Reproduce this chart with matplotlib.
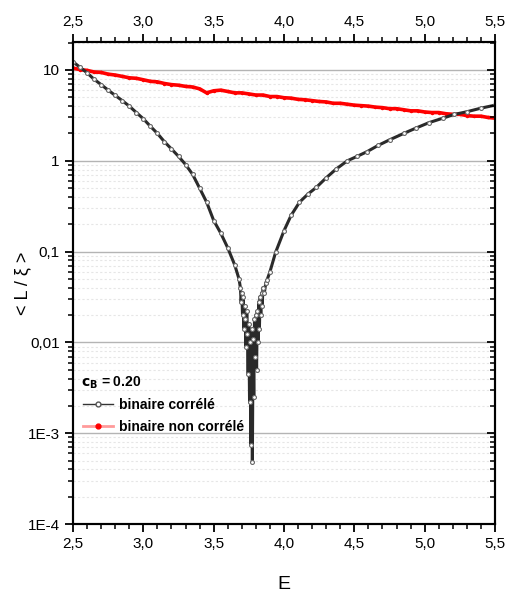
import matplotlib
matplotlib.use("Agg")
import matplotlib.pyplot as plt
from matplotlib.lines import Line2D
from matplotlib.ticker import FixedLocator, FuncFormatter, LogLocator, NullFormatter, MultipleLocator


# binaire corrélé, c_B = 0.20
E_corr = [
    2.50, 2.55, 2.60, 2.65, 2.70, 2.75, 2.80, 2.85, 2.90, 2.95,
    3.00, 3.05, 3.10, 3.15, 3.20, 3.25, 3.30, 3.35, 3.40, 3.45,
    3.50, 3.55, 3.60, 3.65, 3.68,
    3.690, 3.695, 3.700, 3.705, 3.710, 3.715, 3.720, 3.725, 3.730, 3.735,
    3.740, 3.745, 3.750, 3.755, 3.760, 3.765, 3.770, 3.775, 3.780, 3.785,
    3.790, 3.795, 3.800, 3.805, 3.810, 3.815, 3.820, 3.825, 3.830, 3.835,
    3.840, 3.845, 3.850, 3.860, 3.870,
    3.88, 3.90, 3.94, 4.00, 4.05, 4.11, 4.17, 4.23, 4.30, 4.37,
    4.45, 4.52, 4.59, 4.67, 4.75, 4.85, 4.94, 5.03, 5.13, 5.21,
    5.30, 5.40, 5.50,
]
L_corr = [
    12.3, 10.7, 9.3, 7.9, 6.9, 6.0, 5.25, 4.6, 4.0, 3.4,
    2.9, 2.4, 2.0, 1.62, 1.35, 1.12, 0.91, 0.71, 0.50, 0.35,
    0.22, 0.16, 0.11, 0.071, 0.050,
    0.040, 0.028, 0.035, 0.020, 0.032, 0.014, 0.025, 0.018, 0.009, 0.022,
    0.0125, 0.0045, 0.016, 0.0022, 0.010, 0.00075, 0.014, 0.00048, 0.011, 0.0025,
    0.018, 0.007, 0.020, 0.005, 0.022, 0.010, 0.028, 0.014, 0.032, 0.020,
    0.035, 0.025, 0.040, 0.035, 0.045,
    0.049, 0.060, 0.098, 0.17, 0.25, 0.35, 0.43, 0.51, 0.65, 0.81,
    1.0, 1.12, 1.26, 1.48, 1.7, 2.0, 2.3, 2.63, 2.95, 3.24,
    3.47, 3.8, 4.1,
]

# binaire non corrélé
E_noncorr = [
    2.50, 2.55, 2.60, 2.65, 2.70, 2.75, 2.80, 2.85, 2.90, 2.95,
    3.00, 3.05, 3.10, 3.15, 3.20, 3.25, 3.30, 3.35, 3.40, 3.45,
    3.50, 3.55, 3.60, 3.65, 3.70, 3.75, 3.80, 3.85, 3.90, 3.95,
    4.00, 4.05, 4.10, 4.15, 4.20, 4.25, 4.30, 4.35, 4.40, 4.45,
    4.50, 4.55, 4.60, 4.65, 4.70, 4.75, 4.80, 4.85, 4.90, 4.95,
    5.00, 5.05, 5.10, 5.15, 5.20, 5.25, 5.30, 5.35, 5.40, 5.45, 5.50,
]
L_noncorr = [
    10.5, 10.1, 9.9, 9.5, 9.4, 9.0, 8.8, 8.5, 8.2, 8.1,
    7.8, 7.5, 7.4, 7.1, 6.9, 6.8, 6.6, 6.5, 6.2, 5.6,
    5.9, 6.0, 5.8, 5.6, 5.6, 5.45, 5.3, 5.3, 5.1, 5.1,
    4.95, 4.9, 4.75, 4.7, 4.6, 4.5, 4.45, 4.3, 4.3, 4.2,
    4.1, 4.05, 4.0, 3.9, 3.85, 3.75, 3.75, 3.65, 3.55, 3.55,
    3.45, 3.4, 3.4, 3.3, 3.25, 3.25, 3.15, 3.1, 3.1, 3.0, 2.95,
]

y_ticks = [1e-4, 1e-3, 1e-2, 1e-1, 1, 10]
y_tick_labels = ["1E-4", "1E-3", "0,01", "0,1", "1", "10"]

FONT = ["Liberation Sans Narrow", "Liberation Sans", "DejaVu Sans"]


def x_fmt(v, pos):
    return f"{v:.1f}".replace(".", ",")


def y_fmt(v, pos):
    i = min(range(len(y_ticks)), key=lambda k: abs(y_ticks[k] - v) / y_ticks[k])
    return y_tick_labels[i]


def main():
    plt.rcParams["font.family"] = FONT

    fig = plt.figure(figsize=(5.11, 6.01), dpi=100)
    ax = fig.add_axes([0.1429, 0.128, 0.8258, 0.802])

    ax.set_yscale("log")
    ax.set_xlim(2.5, 5.5)
    ax.set_ylim(1e-4, 20.3)

    # grid
    ax.yaxis.grid(True, which="major", color="#b4b4b4", lw=1.0)
    ax.yaxis.grid(True, which="minor", color="#e6e6e6", lw=0.8, linestyle=(0, (2, 2)))
    ax.xaxis.grid(False)
    ax.set_axisbelow(True)

    ax.plot(E_noncorr, L_noncorr, color="red", lw=2.6, marker="o", ms=1.5,
            mfc="red", mec="red", zorder=3)
    ax.plot(E_corr, L_corr, color="#2a2a2a", lw=2.2, marker="o", ms=2.8,
            mfc="white", mec="#666666", mew=0.8, zorder=4)

    ax.xaxis.set_major_locator(MultipleLocator(0.5))
    ax.xaxis.set_minor_locator(MultipleLocator(0.1))
    ax.xaxis.set_major_formatter(FuncFormatter(x_fmt))
    ax.yaxis.set_major_locator(FixedLocator(y_ticks))
    ax.yaxis.set_major_formatter(FuncFormatter(y_fmt))
    ax.yaxis.set_minor_locator(LogLocator(base=10, subs=range(2, 10)))
    ax.yaxis.set_minor_formatter(NullFormatter())

    ax.tick_params(axis="both", which="major", direction="out", length=6, width=1.3,
                   labelsize=11)
    ax.tick_params(axis="both", which="minor", direction="out", length=3.5, width=1.1)
    ax.tick_params(axis="x", which="both", top=True, labeltop=True)
    ax.tick_params(axis="y", which="both", right=False)

    # right side ticks point inward
    ax2 = ax.twinx()
    ax2.set_yscale("log")
    ax2.set_ylim(ax.get_ylim())
    ax2.yaxis.set_major_locator(FixedLocator(y_ticks))
    ax2.yaxis.set_minor_locator(LogLocator(base=10, subs=range(2, 10)))
    ax2.yaxis.set_major_formatter(NullFormatter())
    ax2.yaxis.set_minor_formatter(NullFormatter())
    ax2.tick_params(axis="y", which="major", direction="in", length=6, width=1.3)
    ax2.tick_params(axis="y", which="minor", direction="in", length=3.5, width=1.1)

    for a in (ax, ax2):
        for s in a.spines.values():
            s.set_linewidth(1.5)

    ax.set_xlabel("E", fontsize=14)
    ax.xaxis.set_label_coords(0.5, -0.108)
    ax.set_ylabel("< L / \u03be >", fontsize=13)
    ax.yaxis.set_label_coords(-0.10, 0.5)

    handles = [
        Line2D([], [], color="#333333", lw=1.0, marker="o", ms=3.5, mfc="white", mec="#555555"),
        Line2D([], [], color="#ff9a9a", lw=2.0, marker="o", ms=3.5, mfc="red", mec="red"),
    ]
    ax.legend(handles, ["binaire corrélé", "binaire non corrélé"],
              loc="upper left", bbox_to_anchor=(0.0, 0.282), frameon=False,
              prop={"weight": "bold", "size": 10}, handlelength=2.2,
              handletextpad=0.4, labelspacing=0.6, borderaxespad=0.3)
    ax.text(0.02, 0.2925, r"$\mathbf{c_B}$ = 0.20", transform=ax.transAxes,
            fontsize=10, fontweight="bold", va="center", ha="left")

    fig.savefig("out.png", dpi=100)
    plt.close(fig)


if __name__ == "__main__":
    main()
